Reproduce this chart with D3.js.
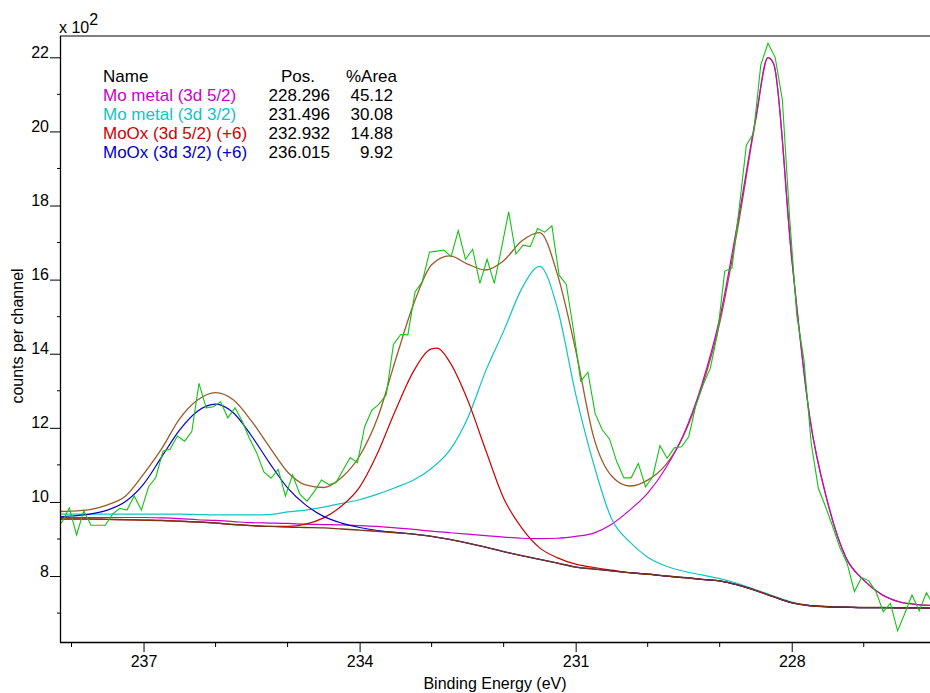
<!DOCTYPE html>
<html>
<head>
<meta charset="utf-8">
<script src="https://cdn.jsdelivr.net/npm/d3@7"></script>
<style>
  body { margin: 0; background: #fff; }
  svg { font-family: "Liberation Sans", Arial, sans-serif; }
</style>
</head>
<body>
<svg id="chart" width="930" height="693"></svg>
<script>
// raw spectrum, one value every 0.1 eV starting at 238.23 eV
const dataStartEV = 238.23;
const dataStepEV = 0.1;
const dataCounts = [
  930, 946, 984, 911, 976, 937, 937, 937, 967, 983,
  978, 1016, 978, 1041, 1066, 1137, 1143, 1178, 1164, 1190,
  1320, 1254, 1257, 1270, 1227, 1254, 1218, 1172, 1133, 1081,
  1064, 1088, 1016, 1073, 1021, 1002, 1028, 1059, 1047, 1052,
  1086, 1120, 1106, 1203, 1248, 1264, 1289, 1425, 1452, 1451,
  1567, 1594, 1674, 1677, 1680, 1662, 1732, 1655, 1682, 1590,
  1655, 1590, 1685, 1783, 1669, 1693, 1689, 1738, 1728, 1745,
  1612, 1587, 1464, 1326, 1350, 1239, 1194, 1170, 1109, 1065,
  1065, 1104, 1041, 1068, 1152, 1118, 1146, 1149, 1176, 1262,
  1316, 1361, 1455, 1623, 1631, 1792, 1963, 1995, 2179, 2238,
  2200, 2085, 1770, 1504, 1383, 1159, 1037, 987, 933, 876,
  834, 758, 796, 787, 758, 704, 726, 652, 699, 749,
  706, 755, 722
];

// Shirley background [eV, counts]
const background = [
  [238.25, 954], [238.0, 954], [237.75, 954], [237.5, 953], [237.25, 952], [237.0, 951],
  [236.75, 950], [236.5, 948], [236.25, 946], [236.0, 943], [235.75, 939], [235.5, 936],
  [235.25, 934], [235.0, 932], [234.75, 931], [234.5, 930], [234.25, 927], [234.0, 924],
  [233.75, 921], [233.5, 917], [233.25, 913], [233.0, 907], [232.75, 899], [232.5, 889],
  [232.25, 878], [232.0, 866], [231.75, 855], [231.5, 845], [231.25, 835], [231.0, 824],
  [230.75, 819], [230.5, 814], [230.25, 809], [230.0, 805], [229.75, 800], [229.5, 796],
  [229.25, 791], [229.0, 787], [228.75, 776], [228.5, 761], [228.25, 744], [228.0, 728],
  [227.75, 720], [227.5, 717], [227.25, 716], [227.0, 715], [226.75, 715], [226.5, 714],
  [226.25, 714], [226.0, 713]
];

// component curves (peak + background) where they leave the background
const moMetal52 = [
  [238.25, 958], [238.0, 958], [237.75, 958], [237.5, 958], [237.25, 958], [237.0, 958],
  [236.75, 957], [236.5, 955], [236.25, 952], [236.0, 950], [235.75, 947], [235.5, 944],
  [235.25, 943], [235.0, 942], [234.75, 940], [234.5, 939], [234.25, 938], [234.0, 936],
  [233.75, 934], [233.5, 930], [233.25, 926], [233.0, 921], [232.75, 917], [232.5, 913],
  [232.25, 909], [232.0, 905], [231.75, 902], [231.5, 901], [231.25, 902], [231.0, 907],
  [230.75, 916], [230.5, 940], [230.25, 978], [230.0, 1024], [229.75, 1091], [229.5, 1183],
  [229.25, 1316], [229.0, 1496], [228.75, 1755], [228.5, 2036], [228.33, 2199], [228.25, 2182],
  [228.0, 1658], [227.75, 1229], [227.5, 998], [227.25, 851], [227.0, 789], [226.75, 750],
  [226.5, 730], [226.25, 723], [226.0, 720]
];
const moMetal32 = [
  [238.25, 967], [238.0, 967], [237.75, 967], [237.5, 967], [237.25, 967], [237.0, 967],
  [236.75, 967], [236.5, 967], [236.25, 966], [236.0, 965], [235.75, 965], [235.5, 965],
  [235.25, 966], [235.0, 973], [234.75, 978], [234.5, 986], [234.25, 996], [234.0, 1006],
  [233.75, 1021], [233.5, 1039], [233.25, 1059], [233.0, 1091], [232.75, 1139], [232.5, 1226],
  [232.25, 1353], [232.0, 1461], [231.75, 1575], [231.5, 1636], [231.25, 1520], [231.0, 1291],
  [230.75, 1102], [230.5, 954], [230.25, 892], [230.0, 851], [229.75, 827], [229.5, 813],
  [229.25, 803], [229.0, 793], [228.75, 780], [228.5, 763], [228.25, 746], [228.0, 730],
  [227.75, 721], [227.5, 718]
];
const mooxA52 = [
  [235.0, 934], [234.75, 940], [234.5, 957], [234.25, 989], [234.0, 1040], [233.75, 1132],
  [233.5, 1248], [233.25, 1353], [233.0, 1413], [232.92, 1415], [232.75, 1378], [232.5, 1275],
  [232.25, 1140], [232.0, 1010], [231.75, 930], [231.5, 876], [231.25, 849], [231.0, 832],
  [230.75, 823], [230.5, 816]
];
const mooxA32 = [
  [238.25, 959], [238.0, 962], [237.75, 967], [237.5, 978], [237.25, 1001], [237.0, 1048],
  [236.75, 1121], [236.5, 1194], [236.25, 1245], [236.0, 1264], [235.75, 1240], [235.5, 1178],
  [235.25, 1105], [235.0, 1038], [234.75, 992], [234.5, 961], [234.25, 943], [234.0, 931],
  [233.75, 923], [233.5, 918]
];
// fitted envelope
const envelope = [
  [238.25, 974], [238.0, 975], [237.75, 979], [237.5, 992], [237.25, 1016], [237.0, 1075],
  [236.75, 1143], [236.5, 1224], [236.25, 1275], [236.0, 1295], [235.75, 1275], [235.5, 1218],
  [235.25, 1148], [235.0, 1081], [234.75, 1046], [234.5, 1039], [234.25, 1066], [234.0, 1124],
  [233.75, 1227], [233.5, 1384], [233.25, 1534], [233.0, 1640], [232.75, 1664], [232.5, 1642],
  [232.25, 1626], [232.0, 1651], [231.75, 1704], [231.5, 1727], [231.25, 1612], [231.0, 1410],
  [230.75, 1175], [230.5, 1070], [230.25, 1043], [230.0, 1059], [229.75, 1100], [229.5, 1180],
  [229.25, 1308], [229.0, 1483], [228.75, 1739], [228.5, 2031], [228.33, 2199], [228.25, 2182],
  [228.0, 1658], [227.75, 1229], [227.5, 998], [227.25, 851], [227.0, 789], [226.75, 750],
  [226.5, 730], [226.25, 723], [226.0, 720]
];

// legend table
const compNames = ['Mo metal (3d 5/2)', 'Mo metal (3d 3/2)', 'MoOx (3d 5/2) (+6)', 'MoOx (3d 3/2) (+6)'];
const compPos = ['228.296', '231.496', '232.932', '236.015'];
const compArea = ['45.12', '30.08', '14.88', '9.92'];
const compColors = ['#cc00cc', '#10c4c4', '#d00000', '#0000cc'];

const xMajor = [237, 234, 231, 228];
const xMinor = [238, 236, 235, 233, 232, 230, 229, 227];
const yMajor = [800, 1000, 1200, 1400, 1600, 1800, 2000, 2200];
const yMinor = [700, 900, 1100, 1300, 1500, 1700, 1900, 2100];

const svg = d3.select('#chart');
const pLeft = 60, pRight = 930, pTop = 36, pBottom = 642;
const fontAxis = 16, fontLegend = 17;

const x = d3.scaleLinear().domain([238.16, 226.08]).range([pLeft, pRight]);
const y = d3.scaleLinear().domain([622, 2257.5]).range([pBottom, pTop]);

svg.append('defs').append('clipPath').attr('id', 'plot')
  .append('rect').attr('x', pLeft).attr('y', pTop).attr('width', pRight - pLeft).attr('height', pBottom - pTop);

// put background under the parts of a component that were not read separately
function withBackground(pts) {
  const hi = pts[0][0], lo = pts[pts.length - 1][0];
  return background.filter(d => d[0] > hi).concat(pts, background.filter(d => d[0] < lo));
}

const line = d3.line().x(d => x(d[0])).y(d => y(d[1])).curve(d3.curveMonotoneX);
const plot = svg.append('g').attr('clip-path', 'url(#plot)');

plot.append('path').attr('d', line(envelope))
  .attr('fill', 'none').attr('stroke', '#9c5a2c').attr('stroke-width', 1.3);

const comps = [moMetal52, moMetal32, mooxA52, mooxA32];
comps.forEach((c, i) => {
  plot.append('path').attr('d', line(withBackground(c)))
    .attr('fill', 'none').attr('stroke', compColors[i]).attr('stroke-width', 1.2);
});

plot.append('path').attr('d', line(background))
  .attr('fill', 'none').attr('stroke', '#7a3418').attr('stroke-width', 1.4);

const dataPts = dataCounts.map((c, i) => [dataStartEV - i * dataStepEV, c]);
plot.append('path')
  .attr('d', d3.line().x(d => x(d[0])).y(d => y(d[1]))(dataPts))
  .attr('fill', 'none').attr('stroke', '#12c412').attr('stroke-width', 1.1);

// frame
svg.append('line').attr('x1', pLeft).attr('x2', pRight).attr('y1', pTop).attr('y2', pTop)
  .attr('stroke', '#000').attr('stroke-width', 1);

// y axis
const yAxis = svg.append('g').attr('transform', `translate(${pLeft},0)`)
  .call(d3.axisLeft(y).tickValues(yMajor).tickSize(10).tickPadding(1).tickFormat(d => d / 100));
yAxis.select('.domain').attr('d', `M0.5,${pTop}V${pBottom}`).attr('stroke-width', 1.3);
yAxis.selectAll('text').attr('dy', 0).attr('font-size', fontAxis).attr('fill', '#000')
  .attr('font-family', '"Liberation Sans", Arial, sans-serif');
svg.append('g').selectAll('line').data(yMinor).join('line')
  .attr('x1', pLeft - 3).attr('x2', pLeft).attr('y1', d => y(d)).attr('y2', d => y(d))
  .attr('stroke', '#000');

// x axis
const xAxis = svg.append('g').attr('transform', `translate(0,${pBottom})`)
  .call(d3.axisBottom(x).tickValues(xMajor).tickSize(10).tickPadding(4).tickFormat(d3.format('d')));
xAxis.select('.domain').attr('d', `M${pLeft},0.5H${pRight}`).attr('stroke-width', 1.3);
xAxis.selectAll('text').attr('font-size', fontAxis).attr('fill', '#000')
  .attr('font-family', '"Liberation Sans", Arial, sans-serif');
svg.append('g').selectAll('line').data(xMinor).join('line')
  .attr('x1', d => x(d)).attr('x2', d => x(d)).attr('y1', pBottom).attr('y2', pBottom + 5)
  .attr('stroke', '#000');

// axis titles
svg.append('text').attr('x', (pLeft + pRight) / 2).attr('y', 689).attr('text-anchor', 'middle')
  .attr('font-size', fontAxis).text('Binding Energy (eV)');
svg.append('text').attr('transform', 'translate(23,336) rotate(-90)').attr('text-anchor', 'middle')
  .attr('font-size', fontAxis).text('counts per channel');

const mult = svg.append('text').attr('x', 59).attr('y', 33).attr('font-size', fontAxis);
mult.append('tspan').text('x 10');
mult.append('tspan').attr('dy', -8).text('2');

// legend table
const leg = svg.append('g').attr('font-size', fontLegend);
leg.append('text').attr('x', 103).attr('y', 82).text('Name');
leg.append('text').attr('x', 315).attr('y', 82).attr('text-anchor', 'end').text('Pos.');
leg.append('text').attr('x', 397).attr('y', 82).attr('text-anchor', 'end').text('%Area');
compNames.forEach((n, i) => {
  const yy = 101 + i * 19;
  leg.append('text').attr('x', 103).attr('y', yy).attr('fill', compColors[i]).text(n);
  leg.append('text').attr('x', 330).attr('y', yy).attr('text-anchor', 'end').text(compPos[i]);
  leg.append('text').attr('x', 393).attr('y', yy).attr('text-anchor', 'end').text(compArea[i]);
});
</script>
</body>
</html>
